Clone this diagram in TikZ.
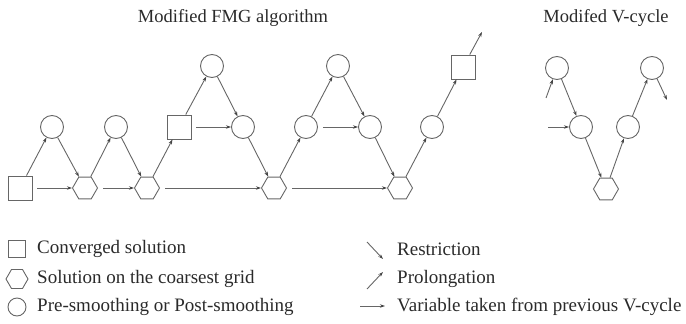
\documentclass[tikz,border=0pt]{standalone}
\usepackage{fontspec}
\setmainfont{Liberation Serif}
\usetikzlibrary{shapes.geometric,arrows.meta}
\definecolor{linegray}{HTML}{666666}
\definecolor{tipgray}{HTML}{444444}
\definecolor{textgray}{HTML}{2A2A2A}
\tikzset{
  circ/.style={circle,draw=linegray,line width=0.9pt,minimum size=23pt,inner sep=0pt},
  sq/.style={rectangle,draw=linegray,line width=0.9pt,minimum size=24pt,inner sep=0pt},
  hexa/.style={regular polygon,regular polygon sides=6,draw=linegray,line width=0.9pt,minimum size=25pt,inner sep=0pt},
  arr/.style={draw=linegray,line width=0.9pt,-{Stealth[length=5pt,width=3.4pt,color=tipgray]}},
  harr/.style={arr,shorten <=5pt},
  lbl/.style={text=textgray,font=\fontsize{18.5}{22}\selectfont,inner sep=0pt},
  leg/.style={lbl,anchor=west,font=\fontsize{19}{22}\selectfont},
}
\begin{document}
\begin{tikzpicture}[x=1pt,y=-1pt]
\useasboundingbox (0,0) rectangle (686,324);
% titles
\node[lbl] (title1) at (233,18) {Modified FMG algorithm};
\node[lbl] (title2) at (606,18) {Modifed V-cycle};
% FMG nodes
\node[sq]   (sq1) at (20,188) {};
\node[circ] (c1)  at (52,127) {};
\node[hexa] (h1)  at (85,188) {};
\node[circ] (c2)  at (116,127) {};
\node[hexa] (h2)  at (147,188) {};
\node[sq]   (sq2) at (179,127) {};
\node[circ] (t1)  at (212,66) {};
\node[circ] (c3)  at (243,127) {};
\node[hexa] (h3)  at (274,188) {};
\node[circ] (c4)  at (306,127) {};
\node[circ] (t2)  at (338,66) {};
\node[circ] (c5)  at (370,127) {};
\node[hexa] (h4)  at (400,188) {};
\node[circ] (c6)  at (432,127) {};
\node[sq]   (sq3) at (463,67) {};
\coordinate (out) at (482,32);
% FMG connectors
\draw[arr] (sq1) -- (c1);
\draw[arr] (c1) -- (h1);
\draw[arr] (h1) -- (c2);
\draw[arr] (c2) -- (h2);
\draw[arr] (h2) -- (sq2);
\draw[arr] (sq2) -- (t1);
\draw[arr] (t1) -- (c3);
\draw[arr] (c3) -- (h3);
\draw[arr] (h3) -- (c4);
\draw[arr] (c4) -- (t2);
\draw[arr] (t2) -- (c5);
\draw[arr] (c5) -- (h4);
\draw[arr] (h4) -- (c6);
\draw[arr] (c6) -- (sq3);
\draw[arr] (sq3) -- (out);
\draw[harr] (sq1) -- (h1);
\draw[harr] (h1) -- (h2);
\draw[harr] (h2) -- (h3);
\draw[harr] (sq2) -- (c3);
\draw[harr] (h3) -- (h4);
\draw[harr] (c4) -- (c5);
% V-cycle
\node[circ] (v1) at (557,68) {};
\node[circ] (v2) at (581,127) {};
\node[hexa] (vh) at (606,189) {};
\node[circ] (v3) at (628,127) {};
\node[circ] (v4) at (652,68) {};
\coordinate (vin1) at (546,98);
\coordinate (vin2) at (548,127);
\coordinate (vout) at (667,100);
\draw[arr] (vin1) -- (v1);
\draw[arr] (v1) -- (v2);
\draw[arr] (v2) -- (vh);
\draw[arr] (vh) -- (v3);
\draw[arr] (v3) -- (v4);
\draw[arr] (v4) -- (vout);
\draw[arr] (vin2) -- (v2);
% legend
\node[sq,minimum size=17pt] (lsq) at (17,249) {};
\node[hexa,minimum size=22pt] (lhex) at (17,279) {};
\node[circ,minimum size=18pt] (lcirc) at (17,307) {};
\node[leg] (lt1) at (37,249) {Converged solution};
\node[leg] (lt2) at (37,279) {Solution on the coarsest grid};
\node[leg] (lt3) at (37,307) {Pre-smoothing or Post-smoothing};
\coordinate (ra) at (367,242);
\coordinate (rb) at (383,259);
\coordinate (pa) at (367,289);
\coordinate (pb) at (383,272);
\coordinate (va) at (360,306);
\coordinate (vb) at (385,306);
\draw[arr] (ra) -- (rb);
\draw[arr] (pa) -- (pb);
\draw[arr] (va) -- (vb);
\node[leg] (lt4) at (397,249) {Restriction};
\node[leg] (lt5) at (397,279) {Prolongation};
\node[leg] (lt6) at (397,307) {Variable taken from previous V-cycle};
\end{tikzpicture}
\end{document}
